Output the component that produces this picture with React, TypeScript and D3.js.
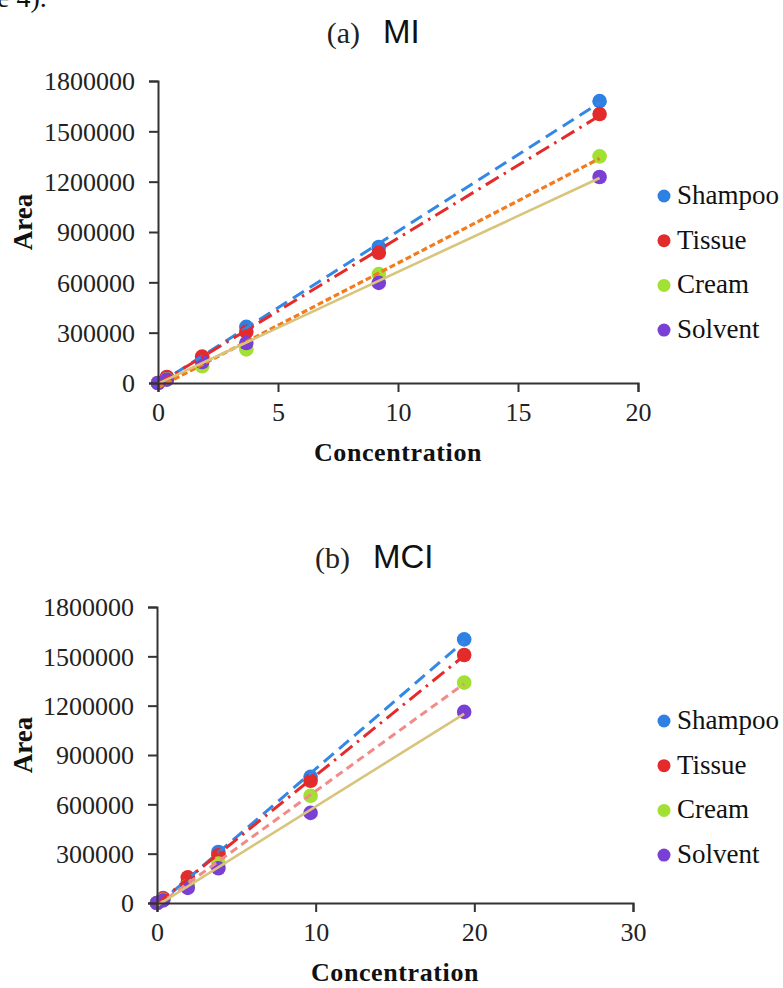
import React, { useEffect, useRef } from 'react';
import * as d3 from 'd3';

// MI panel (a)
const concMI = [0, 0.37, 1.84, 3.68, 9.2, 18.4];
const shampooMI = [0, 32000, 150000, 335000, 811000, 1680000];
const tissueMI = [0, 36000, 157000, 305000, 776000, 1603000];
const creamMI = [0, 22000, 100000, 200000, 649000, 1351000];
const solventMI = [0, 20000, 125000, 238000, 597000, 1228000];

// MCI panel (b)
const concMCI = [0, 0.39, 1.94, 3.87, 9.68, 19.36];
const shampooMCI = [0, 30000, 128000, 310000, 767000, 1603000];
const tissueMCI = [0, 26000, 156000, 290000, 743000, 1508000];
const creamMCI = [0, 20000, 105000, 240000, 652000, 1340000];
const solventMCI = [0, 16000, 92000, 211000, 548000, 1162000];

const seriesNames = ['Shampoo', 'Tissue', 'Cream', 'Solvent'];
const yTicks = [0, 300000, 600000, 900000, 1200000, 1500000, 1800000];
const xTicksMI = [0, 5, 10, 15, 20];
const xTicksMCI = [0, 10, 20, 30];

const dotColors = ['#2f80e3', '#e32b2b', '#a3e034', '#7a3fd4'];
const lineStylesMI = [
    { color: '#3388e6', dash: '13,7', width: 3 },
    { color: '#e52a2a', dash: '15,6,2.5,6', width: 3 },
    { color: '#f27a1f', dash: '6,3', width: 3.2 },
    { color: '#d9c47c', dash: null, width: 2.6 },
];
const lineStylesMCI = [
    { color: '#3388e6', dash: '13,7', width: 3 },
    { color: '#e52a2a', dash: '15,6,2.5,6', width: 3 },
    { color: '#f28a8a', dash: '8,5', width: 3 },
    { color: '#d9c47c', dash: null, width: 2.6 },
];

const serif = '"Liberation Serif", "Times New Roman", serif';
const sans = '"Liberation Sans", Arial, sans-serif';

function fit(xs, ys) {
    const mx = d3.mean(xs), my = d3.mean(ys);
    let num = 0, den = 0;
    xs.forEach((x, i) => { num += (x - mx) * (ys[i] - my); den += (x - mx) * (x - mx); });
    const slope = num / den;
    return { slope, intercept: my - slope * mx };
}

function Panel({ conc, series, xTicks, xMax, xRange, yRange, styles, title, legendTop }) {
    const xAxisEl = useRef(null);
    const yAxisEl = useRef(null);
    const xScale = d3.scaleLinear().domain([0, xMax]).range(xRange);
    const yScale = d3.scaleLinear().domain([0, 1800000]).range(yRange);

    useEffect(() => {
        const xAxis = d3.axisBottom(xScale).tickValues(xTicks).tickSizeOuter(0).tickSize(9).tickFormat(d3.format('d'));
        const yAxis = d3.axisLeft(yScale).tickValues(yTicks).tickSizeOuter(0).tickSize(9).tickPadding(14).tickFormat(d3.format('d'));

        const gx = d3.select(xAxisEl.current);
        gx.selectAll('*').remove();
        gx.call(xAxis);
        gx.select('.domain').attr('stroke', '#333').attr('stroke-width', 2);
        gx.selectAll('.tick line').attr('stroke', '#333').attr('stroke-width', 2);
        gx.selectAll('.tick text')
            .attr('y', 38).attr('dy', 0)
            .style('font-family', serif).style('font-size', '26px').attr('fill', '#222');

        const gy = d3.select(yAxisEl.current);
        gy.selectAll('*').remove();
        gy.call(yAxis);
        gy.select('.domain').attr('stroke', '#333').attr('stroke-width', 2);
        gy.selectAll('.tick line').attr('stroke', '#333').attr('stroke-width', 2);
        gy.selectAll('.tick text')
            .attr('dy', '0.34em')
            .style('font-family', serif).style('font-size', '26px').attr('fill', '#222');
    });

    const xMid = (xRange[0] + xRange[1]) / 2;
    const yMid = (yRange[0] + yRange[1]) / 2;
    const line = d3.line().x(d => xScale(d[0])).y(d => yScale(d[1]));
    const x0 = d3.min(conc), x1 = d3.max(conc);

    return (
        <g>
            <text x={title.x} y={title.y} textAnchor="end" style={{ fontFamily: serif, fontSize: 30 }} fill="#222">{title.tag}</text>
            <text x={title.x + 23} y={title.y} style={{ fontFamily: sans, fontSize: 33 }} fill="#111">{title.name}</text>

            {series.map((ys, s) => (
                <g key={'pts' + s}>
                    {ys.map((v, i) => (
                        <circle key={i} cx={xScale(conc[i])} cy={yScale(v)} r={7.3} fill={dotColors[s]} />
                    ))}
                </g>
            ))}
            {series.map((ys, s) => {
                const f = fit(conc, ys);
                const st = styles[s];
                return <path key={'fit' + s}
                    d={line([[x0, f.intercept + f.slope * x0], [x1, f.intercept + f.slope * x1]])}
                    fill="none" stroke={st.color} strokeWidth={st.width}
                    strokeDasharray={st.dash || undefined} />;
            })}

            <g ref={xAxisEl} transform={`translate(0,${yRange[0]})`} />
            <g ref={yAxisEl} transform={`translate(${xRange[0]},0)`} />

            <text x={xMid} y={yRange[0] + 78} textAnchor="middle"
                style={{ fontFamily: serif, fontSize: 26, fontWeight: 'bold', letterSpacing: '0.6px' }} fill="#111">Concentration</text>
            <text transform={`translate(32,${yMid - 10}) rotate(-90)`} textAnchor="middle"
                style={{ fontFamily: serif, fontSize: 27, fontWeight: 'bold' }} fill="#111">Area</text>

            {seriesNames.map((n, i) => (
                <g key={n} transform={`translate(664,${legendTop + i * 44.7})`}>
                    <circle cx={0} cy={0} r={6.5} fill={dotColors[i]} />
                    <text x={13} y={8} style={{ fontFamily: serif, fontSize: 27 }} fill="#111">{n}</text>
                </g>
            ))}
        </g>
    );
}

export default function App() {
    return (
        <svg width={783} height={988} style={{ position: 'absolute', left: 0, top: 0, background: '#fff' }}>
            <rect width={783} height={988} fill="#fff" />
            <text x={-3} y={7} style={{ fontFamily: serif, fontSize: 28 }} fill="#111">e 4).</text>
            <Panel conc={concMI} series={[shampooMI, tissueMI, creamMI, solventMI]}
                xTicks={xTicksMI} xMax={20} xRange={[158, 638]} yRange={[383, 81]}
                styles={lineStylesMI} title={{ tag: '(a)', name: 'MI', x: 360, y: 43 }} legendTop={196} />
            <Panel conc={concMCI} series={[shampooMCI, tissueMCI, creamMCI, solventMCI]}
                xTicks={xTicksMCI} xMax={30} xRange={[157, 633]} yRange={[903, 607]}
                styles={lineStylesMCI} title={{ tag: '(b)', name: 'MCI', x: 350, y: 568 }} legendTop={721} />
        </svg>
    );
}
